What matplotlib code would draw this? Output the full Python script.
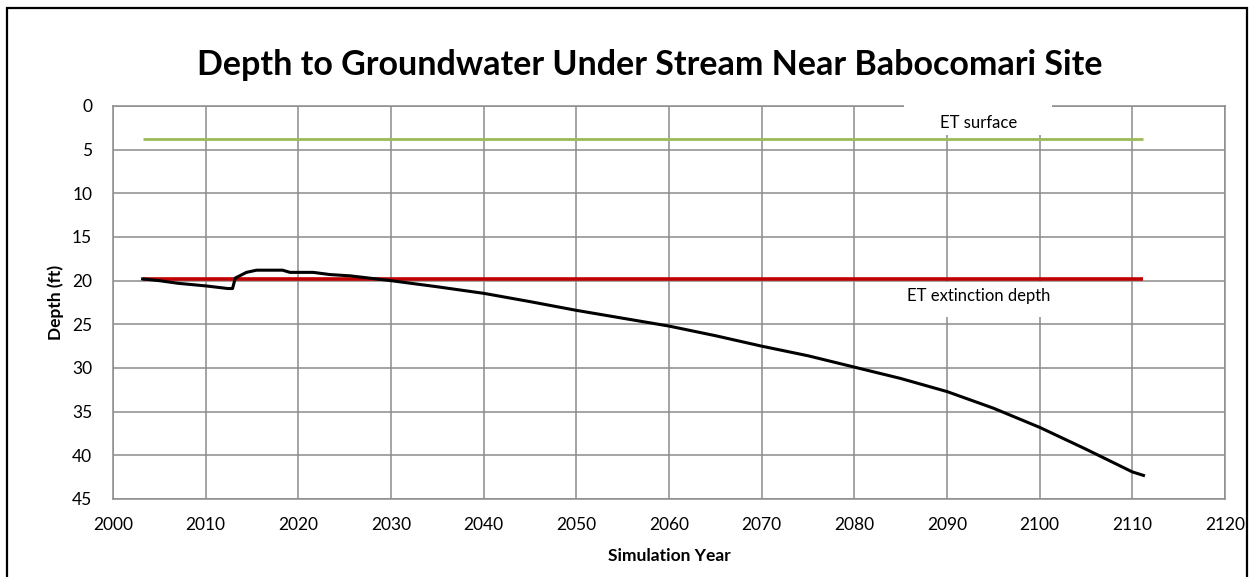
import matplotlib
matplotlib.use("Agg")
import matplotlib.pyplot as plt
from matplotlib.patches import Rectangle

plt.rcParams["font.family"] = ["Lato", "DejaVu Sans"]

# simulated depth to groundwater (ft) by year
years = [2003.2, 2005, 2007, 2010, 2012.4, 2012.9, 2013.2, 2014.4, 2015.5, 2018.3,
         2019.1, 2021.6, 2023.4, 2025.6, 2030, 2035, 2040, 2045, 2050, 2055,
         2060, 2065, 2070, 2075, 2080, 2085, 2090, 2095, 2100, 2105, 2110, 2111.2]
depth = [19.8, 20.0, 20.3, 20.6, 20.9, 20.9, 19.7, 19.05, 18.8, 18.8,
         19.05, 19.05, 19.3, 19.45, 20.0, 20.7, 21.45, 22.4, 23.4, 24.3,
         25.2, 26.3, 27.5, 28.6, 29.9, 31.2, 32.7, 34.6, 36.8, 39.3, 41.9, 42.3]

# reference levels
ref_years = [2003.2, 2111.2]
et_surface = 3.8
et_extinction = 19.8

xticks = list(range(2000, 2121, 10))
yticks = list(range(0, 46, 5))

fig = plt.figure(figsize=(12.54, 5.77), dpi=100)
ax = fig.add_axes([0.0901, 0.1352, 0.8868, 0.6811])

ax.plot(ref_years, [et_surface] * 2, color="#9bbb59", lw=2.0, zorder=3, solid_capstyle="butt")
ax.plot(ref_years, [et_extinction] * 2, color="#c00000", lw=2.6, zorder=3, solid_capstyle="butt")
ax.plot(years, depth, color="black", lw=2.2, zorder=4)

ax.set_xlim(2000, 2120)
ax.set_ylim(45, 0)
ax.set_xticks(xticks)
ax.set_yticks(yticks)
ax.grid(True, color="#8c8c8c", lw=1.1)
ax.set_axisbelow(True)
for s in ax.spines.values():
    s.set_color("#8c8c8c")
    s.set_linewidth(1.1)
ax.tick_params(length=0, labelsize=12.5, colors="black")
ax.tick_params(axis="x", pad=13)
ax.tick_params(axis="y", pad=15)

# label boxes that hide the gridlines behind them
ax.add_patch(Rectangle((2085.4, -0.4), 15.9, 3.7, facecolor="white", edgecolor="none",
                       zorder=2.7, clip_on=False))
ax.text(2093.4, 2.0, "ET surface", ha="center", va="center", fontsize=12, zorder=5)
ax.add_patch(Rectangle((2082.0, 20.15), 22.0, 4.05, facecolor="white", edgecolor="none",
                       zorder=2.7))
ax.text(2093.4, 21.8, "ET extinction depth", ha="center", va="center", fontsize=12, zorder=5)

ax.set_ylabel("Depth (ft)", fontsize=12.5, fontweight="bold", labelpad=6)
ax.set_xlabel("Simulation Year", fontsize=12.5, fontweight="bold", labelpad=11)
fig.text(0.518, 0.887, "Depth to Groundwater Under Stream Near Babocomari Site",
         ha="center", va="center", fontsize=24.5, fontweight="bold")

# chart border
fig.add_artist(Rectangle((7 / 1254, -0.02), 1240 / 1254, 0.013 + 573 / 577,
                         transform=fig.transFigure, facecolor="none",
                         edgecolor="black", lw=1.6))

fig.savefig("out.png", dpi=100)
